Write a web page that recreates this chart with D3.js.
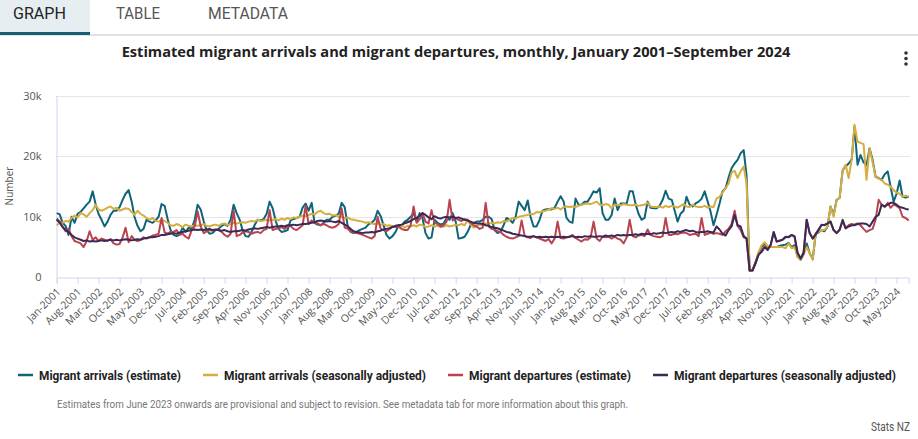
<!DOCTYPE html>
<html>
<head>
<meta charset="utf-8">
<script src="https://cdn.jsdelivr.net/npm/d3@7"></script>
<style>
  body { margin: 0; background: #fff; }
  svg { display: block; }
  .narrow { font-family: Roboto, "Noto Sans", sans-serif; }
  .sans { font-family: "Open Sans", "Noto Sans", sans-serif; }
</style>
</head>
<body>
<div id="chart"></div>
<script>
// Monthly values in thousands, Jan 2001 - Sep 2024 (one row per year)
const arrivalsEstimate = [
  10.6, 10.4, 9.0, 8.5, 7.0, 10.0, 9.0, 10.5, 10.8, 11.4, 12.0, 12.5,
  14.2, 12.0, 10.5, 9.5, 8.4, 9.2, 10.3, 11.0, 11.0, 11.6, 12.8, 13.8,
  14.4, 12.5, 10.0, 8.5, 7.6, 8.0, 9.5, 9.2, 9.0, 9.4, 10.0, 12.1,
  11.8, 9.6, 7.8, 7.0, 6.8, 7.0, 8.2, 7.5, 8.2, 8.0, 9.5, 12.0,
  11.2, 9.2, 7.8, 7.2, 7.3, 7.8, 8.0, 8.5, 8.8, 8.5, 9.5, 12.0,
  10.6, 9.5, 7.8, 6.8, 6.7, 7.5, 8.6, 9.5, 9.4, 9.6, 10.5, 12.5,
  11.4, 9.3, 8.0, 7.5, 7.6, 7.8, 9.4, 9.6, 9.8, 10.0, 11.5, 12.2,
  11.0, 12.3, 9.0, 8.7, 8.6, 9.0, 9.5, 9.5, 10.0, 10.2, 10.5, 12.3,
  11.6, 8.4, 7.5, 7.3, 7.5, 7.8, 8.0, 8.2, 8.8, 9.0, 9.5, 11.0,
  10.1, 8.5, 7.0, 6.4, 6.8, 7.5, 8.6, 8.5, 9.2, 9.5, 10.0, 10.6,
  9.2, 10.6, 9.8, 7.3, 6.4, 6.6, 9.5, 9.0, 8.7, 8.9, 9.8, 9.5,
  10.6, 9.2, 6.4, 6.5, 6.7, 7.5, 8.6, 9.0, 9.2, 9.2, 9.5, 10.0,
  10.0, 9.6, 7.8, 7.3, 7.5, 8.6, 9.8, 9.5, 9.0, 10.0, 12.5, 11.8,
  11.1, 12.7, 10.0, 8.4, 8.4, 9.5, 11.0, 11.2, 11.3, 11.2, 11.5, 12.5,
  13.4, 12.5, 9.8, 9.2, 9.0, 13.0, 12.0, 12.0, 12.5, 12.5, 13.3, 14.2,
  14.0, 14.7, 10.6, 9.5, 9.5, 10.3, 13.0, 11.1, 12.2, 12.2, 12.2, 14.2,
  14.2, 12.0, 10.5, 9.5, 9.8, 12.5, 11.5, 11.4, 11.4, 11.8, 12.8, 14.3,
  13.0, 12.8, 11.1, 9.2, 10.5, 11.0, 13.3, 12.0, 11.7, 12.2, 12.5, 13.0,
  14.2, 12.5, 10.9, 8.6, 10.3, 12.2, 14.2, 14.7, 16.5, 18.0, 18.8, 19.4,
  20.5, 21.0, 16.8, 1.2, 1.2, 2.3, 4.0, 5.0, 5.6, 5.0, 5.0, 5.0,
  5.0, 5.2, 5.3, 5.4, 5.7, 5.0, 5.3, 3.4, 2.9, 3.8, 5.6, 4.0,
  3.0, 7.2, 7.4, 7.8, 7.6, 8.4, 11.7, 10.3, 12.8, 13.1, 17.7, 18.3,
  18.8, 19.5, 24.9, 18.6, 20.2, 19.0, 18.5, 21.3, 19.4, 16.6, 16.4, 16.1,
  17.0, 17.5, 15.0, 12.5, 13.8, 16.0, 13.3, 13.2, 13.3
];

const arrivalsAdjusted = [
  8.6, 9.0, 9.0, 9.3, 9.2, 9.8, 10.2, 9.9, 10.6, 10.4, 10.0, 10.6,
  11.1, 12.0, 11.2, 11.0, 11.2, 11.5, 11.7, 11.3, 11.5, 11.0, 11.2, 11.4,
  11.3, 10.8, 10.3, 11.0, 10.5, 10.2, 9.8, 9.5, 9.8, 9.3, 9.2, 9.5,
  9.3, 9.0, 8.6, 8.5, 8.8, 8.6, 8.3, 8.7, 8.5, 8.4, 8.6, 8.5,
  8.6, 8.8, 8.5, 8.4, 8.6, 8.7, 8.5, 8.8, 8.9, 8.6, 8.8, 9.0,
  8.9, 9.0, 9.1, 9.0, 9.2, 9.3, 9.2, 9.5, 9.3, 9.4, 9.5, 9.4,
  9.5, 9.6, 9.4, 9.7, 9.5, 9.8, 9.6, 9.9, 9.8, 10.0, 10.2, 10.1,
  10.3, 10.5, 10.4, 10.8, 11.0, 10.6, 10.4, 10.5, 10.2, 10.3, 10.0, 10.0,
  9.8, 9.9, 9.6, 9.5, 9.4, 9.3, 9.2, 9.0, 9.1, 8.9, 8.8, 8.9,
  8.7, 8.8, 8.5, 8.6, 8.4, 8.5, 8.4, 8.6, 8.2, 8.5, 8.4, 8.6,
  8.4, 8.7, 8.6, 8.3, 8.4, 8.6, 8.4, 8.5, 8.3, 8.4, 8.6, 8.4,
  8.5, 8.7, 8.6, 8.8, 8.6, 9.4, 8.7, 8.2, 8.5, 8.7, 8.6, 8.9,
  8.8, 9.0, 8.9, 9.1, 9.0, 9.3, 9.2, 9.5, 9.8, 9.7, 10.0, 10.1,
  10.2, 10.3, 10.5, 10.4, 10.8, 10.7, 10.9, 11.0, 11.2, 11.4, 11.3, 11.5,
  11.2, 11.6, 11.7, 11.6, 11.7, 11.6, 11.8, 12.0, 12.1, 12.2, 12.1, 12.3,
  12.5, 12.0, 11.9, 12.1, 12.0, 11.4, 12.0, 12.0, 11.9, 12.1, 12.0, 11.9,
  11.9, 12.0, 11.8, 11.9, 12.0, 12.3, 11.7, 11.6, 11.6, 11.7, 11.5, 11.8,
  11.6, 11.8, 11.7, 11.5, 11.8, 12.1, 11.7, 11.6, 12.0, 11.7, 11.6, 11.6,
  11.8, 11.5, 11.7, 11.6, 13.0, 13.3, 14.0, 14.7, 15.5, 17.3, 17.6, 16.4,
  17.5, 18.3, 15.5, 1.1, 1.3, 2.5, 4.2, 5.3, 5.8, 5.1, 5.0, 5.0,
  5.0, 5.0, 5.0, 4.8, 5.6, 4.8, 5.0, 3.4, 2.9, 3.8, 5.0, 4.0,
  2.9, 7.3, 7.5, 7.8, 7.8, 8.4, 11.7, 10.0, 12.8, 13.1, 17.7, 18.6,
  16.4, 19.5, 25.2, 22.4, 22.2, 22.0, 16.1, 21.3, 19.0, 16.6, 16.3, 16.1,
  15.5, 15.3, 15.0, 14.4, 14.0, 13.8, 13.3, 13.5, 13.3
];

const departuresEstimate = [
  9.7, 9.2, 8.4, 7.6, 8.0, 6.8, 6.0, 5.8, 5.6, 5.0, 6.0, 7.6,
  6.2, 6.6, 6.0, 6.4, 6.2, 6.0, 6.3, 5.6, 5.4, 5.5, 6.6, 8.2,
  5.8, 6.8, 6.2, 6.0, 6.2, 6.6, 6.4, 6.6, 6.9, 7.0, 7.2, 9.8,
  7.4, 7.2, 7.5, 7.5, 7.8, 7.0, 7.2, 6.7, 6.4, 7.8, 8.4, 10.9,
  8.4, 7.3, 7.6, 7.8, 7.7, 7.8, 7.8, 7.5, 7.0, 6.7, 7.2, 11.1,
  6.8, 7.0, 7.4, 7.6, 7.5, 7.2, 7.4, 7.5, 7.3, 7.8, 8.0, 11.1,
  7.8, 8.0, 8.1, 8.3, 8.0, 8.4, 8.5, 8.0, 7.8, 8.2, 8.6, 11.8,
  8.8, 9.4, 9.0, 8.9, 8.6, 8.8, 8.6, 8.3, 8.2, 8.4, 8.8, 11.4,
  8.2, 8.0, 7.6, 7.4, 7.3, 7.2, 7.0, 6.8, 6.6, 6.4, 6.8, 10.0,
  8.0, 7.8, 7.6, 8.0, 8.4, 8.3, 8.4, 8.0, 7.8, 7.8, 8.6, 11.7,
  9.0, 9.6, 10.6, 9.2, 8.9, 11.1, 9.0, 8.8, 8.4, 8.6, 9.2, 12.8,
  9.4, 9.8, 9.5, 9.3, 9.6, 9.5, 9.0, 8.6, 8.4, 8.0, 8.2, 12.3,
  8.4, 8.0, 7.9, 7.6, 7.5, 7.0, 6.7, 6.5, 6.4, 6.6, 6.8, 9.4,
  6.8, 6.6, 6.5, 6.8, 6.6, 6.4, 6.2, 6.0, 6.3, 5.6, 6.4, 9.2,
  6.5, 6.4, 6.6, 6.7, 7.0, 6.5, 6.2, 5.9, 6.3, 6.2, 6.6, 9.2,
  6.4, 6.0, 6.7, 6.6, 6.7, 6.4, 6.7, 6.4, 6.2, 5.6, 6.6, 9.5,
  6.8, 6.6, 6.9, 7.0, 6.8, 7.9, 7.0, 6.8, 6.7, 6.6, 6.8, 9.8,
  7.0, 7.0, 7.2, 7.1, 7.3, 7.4, 7.3, 7.0, 7.1, 7.2, 6.8, 9.8,
  7.0, 7.2, 7.4, 7.2, 7.3, 7.2, 7.0, 7.6, 8.0, 8.8, 11.0, 8.5,
  7.8, 6.6, 6.4, 1.2, 1.2, 2.6, 3.8, 4.3, 5.1, 4.6, 5.3, 7.4,
  5.9, 6.0, 6.2, 6.6, 6.7, 7.0, 6.8, 4.0, 3.1, 4.2, 9.5, 7.3,
  6.4, 7.2, 7.9, 8.6, 8.7, 8.9, 9.2, 7.8, 7.3, 7.9, 9.3, 8.1,
  8.6, 8.8, 8.7, 8.9, 8.6, 8.0, 7.5, 7.8, 8.0, 9.5, 12.8, 12.0,
  11.6, 12.3, 11.5, 12.0, 11.8, 11.4, 10.0, 9.8, 9.4
];

const departuresAdjusted = [
  9.5, 9.0, 8.3, 7.8, 7.5, 7.0, 6.6, 6.4, 6.2, 6.0, 6.1, 5.9,
  6.0, 5.9, 6.0, 6.1, 6.0, 6.1, 6.2, 6.1, 6.2, 6.1, 6.2, 6.3,
  6.2, 6.1, 6.2, 6.3, 6.2, 6.4, 6.5, 6.6, 6.6, 6.7, 6.8, 7.0,
  7.0, 7.1, 7.2, 7.3, 7.2, 7.4, 7.5, 7.6, 7.7, 7.8, 7.9, 7.8,
  7.9, 7.8, 7.9, 8.0, 7.8, 7.9, 7.8, 7.7, 7.8, 7.6, 7.5, 7.6,
  7.6, 7.7, 7.8, 7.7, 7.9, 8.0, 8.1, 8.0, 8.1, 8.2, 8.3, 8.2,
  8.3, 8.4, 8.4, 8.5, 8.4, 8.6, 8.6, 8.7, 8.6, 8.7, 8.8, 8.8,
  8.9, 9.0, 9.1, 9.3, 9.4, 9.3, 9.2, 9.3, 9.2, 9.1, 9.3, 9.0,
  8.7, 8.4, 8.0, 7.6, 7.5, 7.4, 7.3, 7.4, 7.4, 7.5, 7.4, 7.6,
  7.7, 7.9, 8.0, 8.1, 8.3, 8.5, 8.6, 8.7, 8.9, 9.1, 9.3, 9.6,
  9.8, 10.2, 10.6, 10.3, 9.9, 9.6, 10.1, 9.8, 9.7, 9.9, 10.0, 9.9,
  10.0, 9.8, 9.9, 9.7, 9.5, 9.4, 9.2, 9.0, 8.9, 8.9, 8.8, 8.6,
  8.5, 8.3, 8.2, 8.1, 7.9, 7.7, 7.5, 7.4, 7.2, 7.1, 7.0, 6.9,
  6.8, 6.7, 6.7, 6.8, 6.6, 6.7, 6.6, 6.7, 6.6, 6.7, 6.6, 6.7,
  6.6, 6.7, 6.6, 6.7, 6.8, 6.6, 6.7, 6.6, 6.8, 6.7, 6.8, 6.7,
  6.7, 6.8, 6.7, 6.9, 6.8, 6.9, 6.8, 7.0, 6.9, 7.0, 6.9, 7.0,
  7.0, 7.1, 7.0, 7.2, 7.1, 7.2, 7.1, 7.3, 7.2, 7.3, 7.4, 7.3,
  7.4, 7.5, 7.4, 7.6, 7.5, 7.7, 7.8, 7.6, 7.7, 7.5, 7.4, 7.5,
  7.5, 7.6, 7.5, 7.4, 8.4, 7.9, 7.2, 6.9, 7.8, 8.4, 10.3, 8.6,
  8.4, 6.8, 6.4, 1.1, 1.1, 2.4, 3.7, 4.2, 5.0, 4.5, 5.4, 7.5,
  5.9, 6.1, 6.2, 6.7, 6.6, 7.0, 6.7, 4.0, 3.1, 4.0, 9.5, 7.3,
  6.4, 7.1, 7.8, 8.7, 8.6, 8.9, 9.2, 7.8, 7.3, 7.8, 9.5, 8.1,
  8.4, 8.6, 8.6, 8.8, 8.9, 8.9, 8.8, 8.4, 9.2, 10.0, 10.3, 12.0,
  11.7, 12.0, 12.3, 12.3, 12.0, 11.6, 11.5, 11.3, 11.2
];

const seriesNames = [
  "Migrant arrivals (estimate)",
  "Migrant arrivals (seasonally adjusted)",
  "Migrant departures (estimate)",
  "Migrant departures (seasonally adjusted)"
];
const seriesColors = ["#0e6579", "#d5ad41", "#b9434f", "#3a2a55"];
const seriesValues = [arrivalsEstimate, arrivalsAdjusted, departuresEstimate, departuresAdjusted];

const xTickLabels = [
  "Jan-2001", "Aug-2001", "Mar-2002", "Oct-2002", "May-2003", "Dec-2003", "Jul-2004",
  "Feb-2005", "Sep-2005", "Apr-2006", "Nov-2006", "Jun-2007", "Jan-2008", "Aug-2008",
  "Mar-2009", "Oct-2009", "May-2010", "Dec-2010", "Jul-2011", "Feb-2012", "Sep-2012",
  "Apr-2013", "Nov-2013", "Jun-2014", "Jan-2015", "Aug-2015", "Mar-2016", "Oct-2016",
  "May-2017", "Dec-2017", "Jul-2018", "Feb-2019", "Sep-2019", "Apr-2020", "Nov-2020",
  "Jun-2021", "Jan-2022", "Aug-2022", "Mar-2023", "Oct-2023", "May-2024"
];
const yTicks = [0, 10000, 20000, 30000];
const tabs = ["GRAPH", "TABLE", "METADATA"];
const title = "Estimated migrant arrivals and migrant departures, monthly, January 2001\u2013September 2024";
const footnote = "Estimates from June 2023 onwards are provisional and subject to revision. See metadata tab for more information about this graph.";

const months = d3.timeMonth.range(new Date(2001, 0, 1), new Date(2024, 9, 1));
const parseTick = d3.timeParse("%b-%Y");
const fmtTick = d3.timeFormat("%b-%Y");

const W = 918, H = 439;
const svg = d3.select("#chart").append("svg")
  .attr("width", W)
  .attr("height", H);

// Tabs
svg.append("rect").attr("x", 0).attr("y", 0).attr("width", 90).attr("height", 34).attr("fill", "#e7eef2");
svg.append("rect").attr("x", 0).attr("y", 34).attr("width", W).attr("height", 2).attr("fill", "#e2e2e2");
svg.append("rect").attr("x", 0).attr("y", 32).attr("width", 90).attr("height", 3).attr("fill", "#145f74");
const tabX = [13, 116, 208];
const tabW = [53, 44, 80];
svg.selectAll(".tab")
  .data(tabs)
  .enter().append("text")
  .attr("class", "tab narrow")
  .attr("x", (d, i) => tabX[i])
  .attr("y", 19)
  .attr("textLength", (d, i) => tabW[i])
  .attr("lengthAdjust", "spacingAndGlyphs")
  .style("font-size", "16px")
  .attr("fill", (d, i) => i === 0 ? "#222" : "#555")
  .text(d => d);

// Title
svg.append("text")
  .attr("class", "sans")
  .attr("x", 456)
  .attr("y", 57)
  .style("text-anchor", "middle")
  .style("font-size", "14.6px")
  .style("font-weight", "bold")
  .attr("fill", "#222")
  .text(title);

// Menu dots
svg.selectAll(".dot")
  .data([0, 1, 2])
  .enter().append("circle")
  .attr("cx", 906)
  .attr("cy", d => 53 + d * 5.5)
  .attr("r", 1.8)
  .attr("fill", "#333");

// Scales
const x = d3.scaleTime()
  .domain([months[0], months[months.length - 1]])
  .range([56.7, 908.7]);

const y = d3.scaleLinear()
  .domain([0, 30000])
  .range([277.3, 95.7]);

// Gridlines
svg.append("g")
  .selectAll("line")
  .data(yTicks.filter(d => d > 0))
  .enter().append("line")
  .attr("x1", 56)
  .attr("x2", 910)
  .attr("y1", d => Math.round(y(d)) + 0.5)
  .attr("y2", d => Math.round(y(d)) + 0.5)
  .attr("stroke", "#e6e6e6");

// Y axis
const yAxis = svg.append("g")
  .attr("transform", "translate(56.5,0)")
  .call(d3.axisLeft(y).tickValues(yTicks).tickSize(0).tickPadding(15)
    .tickFormat(d => d === 0 ? "0" : (d / 1000) + "k"));
yAxis.select(".domain").attr("stroke", "#ccd6eb");
yAxis.selectAll("text")
  .attr("class", "sans")
  .style("font-size", "11px")
  .attr("fill", "#555");

svg.append("text")
  .attr("class", "sans")
  .attr("transform", "translate(13,186) rotate(-90)")
  .style("text-anchor", "middle")
  .style("font-size", "10px")
  .attr("fill", "#555")
  .text("Number");

// X axis
const xAxis = svg.append("g")
  .attr("transform", "translate(0,277.5)")
  .call(d3.axisBottom(x).tickValues(xTickLabels.map(parseTick))
    .tickFormat(fmtTick).tickSizeOuter(0).tickSize(6));
xAxis.select(".domain").attr("stroke", "#ccd6eb");
xAxis.selectAll(".tick line").attr("stroke", "#ccd6eb");
xAxis.selectAll(".tick text")
  .attr("class", "sans")
  .style("font-size", "10.5px")
  .attr("fill", "#555")
  .style("text-anchor", "end")
  .attr("y", 0)
  .attr("dy", 0)
  .attr("transform", "translate(4,15) rotate(-45)");

// Lines
const line = d3.line()
  .x((d, i) => x(months[i]))
  .y(d => y(d * 1000));

svg.append("g")
  .selectAll("path")
  .data(seriesValues)
  .enter().append("path")
  .attr("fill", "none")
  .attr("stroke", (d, i) => seriesColors[i])
  .attr("stroke-width", 2)
  .attr("stroke-linejoin", "round")
  .attr("d", line);

// Legend (condensed text squeezed to the reference widths)
const legendTextW = [142, 202, 162, 222];
const legend = svg.append("g").attr("transform", "translate(18,375)");
let lx = 0;
seriesNames.forEach((name, i) => {
  const g = legend.append("g").attr("transform", `translate(${lx},0)`);
  g.append("line")
    .attr("x1", 0).attr("x2", 15)
    .attr("y1", 0).attr("y2", 0)
    .attr("stroke", seriesColors[i])
    .attr("stroke-width", 2.5);
  g.append("text")
    .attr("class", "narrow")
    .attr("x", 21)
    .attr("y", 4.5)
    .attr("textLength", legendTextW[i])
    .attr("lengthAdjust", "spacingAndGlyphs")
    .style("font-size", "12.5px")
    .style("font-weight", "bold")
    .attr("fill", "#222")
    .text(name);
  lx += 21 + legendTextW[i] + 22;
});

// Footnote and credit
svg.append("text")
  .attr("class", "narrow")
  .attr("x", 57)
  .attr("y", 408)
  .attr("textLength", 571)
  .attr("lengthAdjust", "spacingAndGlyphs")
  .style("font-size", "10px")
  .attr("fill", "#777")
  .text(footnote);

svg.append("text")
  .attr("class", "narrow")
  .attr("x", 910)
  .attr("y", 431)
  .attr("textLength", 39)
  .attr("lengthAdjust", "spacingAndGlyphs")
  .style("text-anchor", "end")
  .style("font-size", "12px")
  .attr("fill", "#555")
  .text("Stats NZ");
</script>
</body>
</html>
